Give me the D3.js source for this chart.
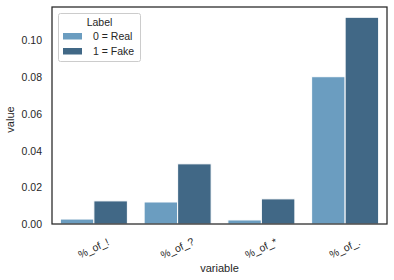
<!DOCTYPE html>
<html><head><meta charset="utf-8">
<script src="https://cdn.jsdelivr.net/npm/d3@7"></script>
<style>body{margin:0;background:#fff}svg{display:block}text{font-family:"Liberation Sans",Arial,sans-serif;fill:#262626}</style>
</head><body>
<script>
const categories = ["%_of_!", "%_of_?", "%_of_*", "%_of_."];
const seriesNames = ["0 = Real", "1 = Fake"];
const realValues = [0.0027, 0.0120, 0.0022, 0.0803];
const fakeValues = [0.0126, 0.0328, 0.0137, 0.1127];
const yTicks = [0.00, 0.02, 0.04, 0.06, 0.08, 0.10];
const colors = ["#6b9dc0", "#416886"];
const legendTitle = "Label";
const xLabel = "variable", yLabel = "value";

const W = 394, H = 280;
const m = {l: 52, r: 7, t: 7, b: 56};
const svg = d3.select("body").append("svg").attr("width", W).attr("height", H);
const x0 = d3.scaleBand().domain(categories).range([m.l, W - m.r]).paddingInner(0.2).paddingOuter(0.1);
const x1 = d3.scaleBand().domain([0, 1]).range([0, x0.bandwidth()]);
const y = d3.scaleLinear().domain([0, 0.1183]).range([H - m.b, m.t]);

const series = [realValues, fakeValues];
const g = svg.append("g");
categories.forEach((c, i) => {
  series.forEach((vals, s) => {
    g.append("rect")
      .attr("x", x0(c) + x1(s)).attr("width", x1.bandwidth())
      .attr("y", y(vals[i])).attr("height", y(0) - y(vals[i]))
      .attr("fill", colors[s]).attr("stroke", "#fff").attr("stroke-width", 1);
  });
});

// y axis
const ya = svg.append("g").attr("transform", `translate(${m.l},0)`)
  .call(d3.axisLeft(y).tickValues(yTicks).tickFormat(d3.format(".2f")).tickSize(0).tickPadding(10));
ya.select(".domain").remove();
ya.selectAll("text").attr("font-size", 10.5).attr("fill", "#262626");

// x axis
const xa = svg.append("g").attr("transform", `translate(0,${H - m.b})`)
  .call(d3.axisBottom(x0).tickSize(0).tickPadding(0));
xa.select(".domain").remove();
xa.selectAll("text").attr("font-size", 10.5).attr("fill", "#262626")
  .attr("text-anchor", "middle").attr("dy", null).attr("y", 0)
  .attr("transform", "translate(0,25) rotate(-25)").attr("dominant-baseline", "middle");

// frame
svg.append("rect").attr("x", m.l).attr("y", m.t).attr("width", W - m.r - m.l).attr("height", H - m.b - m.t)
  .attr("fill", "none").attr("stroke", "#262626").attr("stroke-width", 1.25);

// labels
svg.append("text").attr("x", (m.l + W - m.r) / 2).attr("y", 272).attr("text-anchor", "middle")
  .attr("font-size", 11).text(xLabel);
svg.append("text").attr("transform", `translate(14,${(m.t + H - m.b) / 2 + 4}) rotate(-90)`)
  .attr("text-anchor", "middle").attr("font-size", 11).text(yLabel);

// legend
const lg = svg.append("g");
lg.append("rect").attr("x", 58.5).attr("y", 13.5).attr("width", 82).attr("height", 48).attr("rx", 2)
  .attr("fill", "#fff").attr("fill-opacity", 0.8).attr("stroke", "#cccccc").attr("stroke-width", 1);
lg.append("text").attr("x", 99.5).attr("y", 26).attr("text-anchor", "middle").attr("font-size", 10.5).text(legendTitle);
seriesNames.forEach((n, i) => {
  lg.append("rect").attr("x", 63).attr("y", 33 + i * 15).attr("width", 19).attr("height", 6.5).attr("fill", colors[i]);
  lg.append("text").attr("x", 93).attr("y", 40 + i * 15).attr("font-size", 10.5).text(n);
});
</script>
</body></html>
